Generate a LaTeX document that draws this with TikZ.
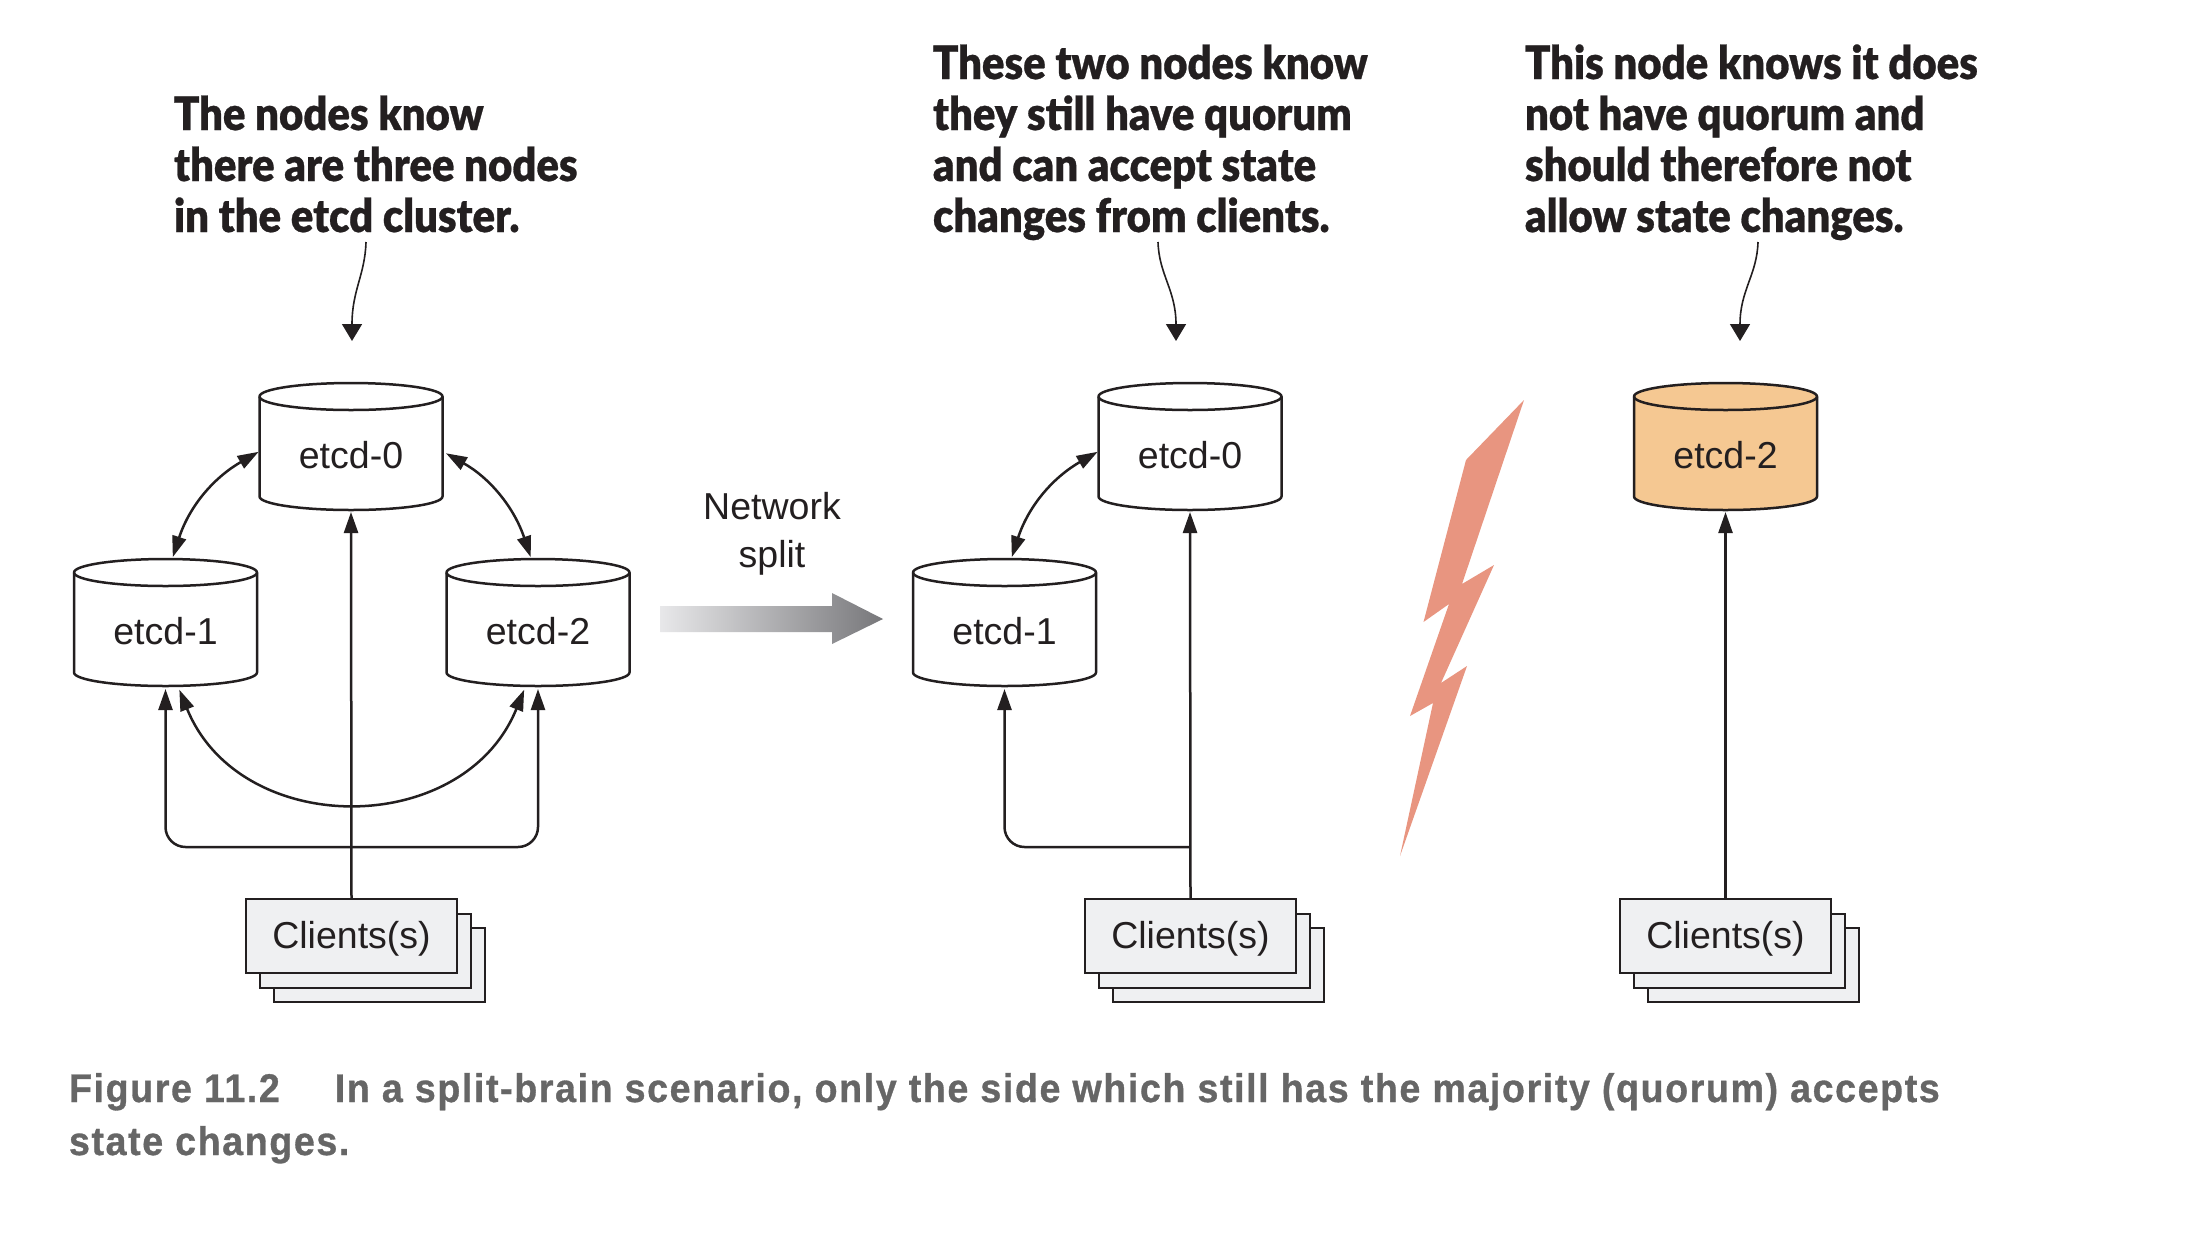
\documentclass[tikz,border=0pt]{standalone}
\usepackage{fontspec}
\usetikzlibrary{arrows.meta,calc}
\setmainfont{Liberation Sans}
\newfontfamily\annotfont[FakeStretch=0.91,FakeBold=0.6]{Lato Black}
\newfontfamily\capfont[FakeStretch=0.94,LetterSpace=4,FakeBold=0.8]{Liberation Sans Bold}
\definecolor{ink}{HTML}{231F20}
\definecolor{clientfill}{HTML}{EFF0F2}
\definecolor{warm}{HTML}{F5C892}
\definecolor{bolt}{HTML}{E89580}
\definecolor{captext}{HTML}{666666}
\definecolor{gradfrom}{HTML}{E8E8EA}
\definecolor{gradto}{HTML}{77777A}
\tikzset{
  x=1pt,y=-1pt,
  every node/.style={text=ink,outer sep=0pt,inner sep=0pt},
  cylbox/.style={minimum width=183pt,minimum height=127pt,text height=44pt,text depth=0pt,font=\fontsize{37.5}{44}\selectfont},
  cylline/.style={draw=ink,line width=2.5pt,line join=round},
  sheet/.style={draw=ink,line width=2.5pt,fill=clientfill,minimum width=211pt,minimum height=74pt},
  frontsheet/.style={sheet,text height=24pt,text depth=0pt,font=\fontsize{37.5}{44}\selectfont},
  conn/.style={draw=ink,line width=2.5pt},
  toarrow/.style={conn,-{Triangle[length=21pt,width=14pt]}},
  twoarrow/.style={conn,{Triangle[length=21pt,width=14pt]}-{Triangle[length=21pt,width=14pt]}},
  note/.style={anchor=base west,align=left,font=\annotfont\fontsize{46}{51}\selectfont},
  notearrow/.style={draw=ink,line width=1.6pt,-{Triangle[length=17pt,width=20pt]}},
}
\newcommand{\cylnode}[5]{%
  \path[cylline,fill=#5] (#2-91.5,#3-50) arc[start angle=180,end angle=0,x radius=91.5pt,y radius=13.5pt]
     -- (#2+91.5,#3+50) arc[start angle=0,end angle=-180,x radius=91.5pt,y radius=13.5pt] -- cycle;
  \path[cylline] (#2-91.5,#3-50) arc[start angle=180,end angle=360,x radius=91.5pt,y radius=13.5pt];
  \node[cylbox] (#1) at (#2,#3) {#4};
}
\newcommand{\clientstack}[3]{%
  \node[sheet] (#1b) at (#2+28,#3+29) {};
  \node[sheet] (#1m) at (#2+14,#3+15) {};
  \node[frontsheet] (#1) at (#2,#3) {Clients(s)};
}
\begin{document}
\begin{tikzpicture}
\useasboundingbox (0,0) rectangle (2192,1232);
\fill[white] (0,0) rectangle (2192,1232);

% Annotations
\node[note] (a0) at (174,232) {The nodes know\\there are three nodes\\in the etcd cluster.};
\node[note] (a1) at (933,232) {These two nodes know\\they still have quorum\\and can accept state\\changes from clients.};
\node[note] (a2) at (1525,232) {This node knows it does\\not have quorum and\\should therefore not\\allow state changes.};

% Left group
\cylnode{la}{351}{446.5}{etcd-0}{white}
\cylnode{lb}{165.5}{622.5}{etcd-1}{white}
\cylnode{lc}{538}{622.5}{etcd-2}{white}
\clientstack{lk}{351.5}{936}

% Middle group
\cylnode{ma}{1190}{446.5}{etcd-0}{white}
\cylnode{mb}{1004.5}{622.5}{etcd-1}{white}
\clientstack{mk}{1190.5}{936}

% Right group
\cylnode{ra}{1725.5}{446.5}{etcd-2}{warm}
\clientstack{rk}{1725.5}{936}

% Note arrows
\coordinate (a0s) at (366,242); \coordinate (a0t) at (352,341);
\coordinate (a1s) at (1158,242); \coordinate (a1t) at (1176,341);
\coordinate (a2s) at (1758,242); \coordinate (a2t) at (1740,341);
\draw[notearrow] (a0s) .. controls (365,275) and (352,290) .. (a0t);
\draw[notearrow] (a1s) .. controls (1159,275) and (1176,290) .. (a1t);
\draw[notearrow] (a2s) .. controls (1757,275) and (1740,290) .. (a2t);

% Left connectors
\draw[twoarrow,shorten <=1pt,shorten >=2pt] (la.183) to[bend right=21] (lb.84);
\draw[twoarrow,shorten <=4pt,shorten >=2pt] (la.-3) to[bend left=21] (lc.96);
\draw[twoarrow,shorten <=4pt,shorten >=4pt] (lb.-79) .. controls ($(lb.-79)+(62,153)$) and ($(lc.-101)+(-62,153)$) .. (lc.-101);
\draw[toarrow,shorten >=2pt] (lk.north) -- (la.south);
\coordinate (lj) at (351,847);
\draw[toarrow,rounded corners=20pt,shorten >=3pt] (lj) -| (lb.south);
\draw[toarrow,rounded corners=20pt,shorten >=3pt] (lj) -| (lc.south);

% Middle connectors
\draw[twoarrow,shorten <=1pt,shorten >=2pt] (ma.183) to[bend right=21] (mb.84);
\draw[toarrow,shorten >=2pt] (mk.north) -- (ma.south);
\coordinate (mj) at (1190,847);
\draw[toarrow,rounded corners=20pt,shorten >=3pt] (mj) -| (mb.south);

% Right connector
\draw[toarrow,shorten >=2pt] (rk.north) -- (ra.south);

% Network split
\node[font=\fontsize{37.5}{48}\selectfont,align=center,anchor=base] (ns) at (772,567) {Network\\split};
\coordinate (gb) at (883,619);
\shade[left color=gradfrom,right color=gradto]
  (660,606) -- (832,606) -- (832,593) -- (gb) -- (832,644) -- (832,632) -- (660,632) -- cycle;

% Lightning bolt
\fill[bolt] (1524,400) -- (1466,460) -- (1423.5,622) -- (1449,604) -- (1410,716) -- (1433,703)
  -- (1400,856) -- (1467,666) -- (1441,683) -- (1494,565) -- (1462,584) -- cycle;

% Caption
\node[anchor=base west,align=left,text=captext,font=\capfont\fontsize{40}{53}\selectfont] (cap) at (69,1155)
  {Figure 11.2\hspace{55pt}In a split-brain scenario, only the side which still has the majority (quorum) accepts\\state changes.};
\end{tikzpicture}
\end{document}
